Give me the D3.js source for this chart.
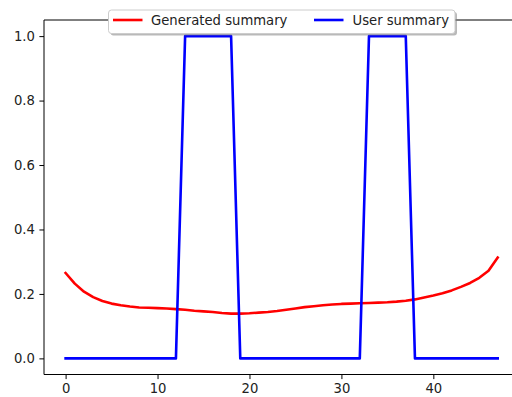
<!DOCTYPE html>
<html>
<head>
<meta charset="utf-8">
<script src="https://cdn.jsdelivr.net/npm/d3@7"></script>
<style>
  html, body { margin: 0; padding: 0; background: #fff; }
  svg { display: block; }
  text { font-family: "DejaVu Sans", sans-serif; }
</style>
</head>
<body>
<svg id="chart" width="512" height="397"></svg>
<script>
const generated = [0.265, 0.232, 0.207, 0.190, 0.178, 0.170, 0.165, 0.161, 0.158, 0.157,
  0.156, 0.155, 0.153, 0.151, 0.148, 0.146, 0.144, 0.141, 0.139, 0.139,
  0.140, 0.142, 0.144, 0.147, 0.151, 0.155, 0.159, 0.162, 0.165, 0.167,
  0.169, 0.170, 0.171, 0.172, 0.173, 0.174, 0.176, 0.179, 0.183, 0.189,
  0.195, 0.202, 0.211, 0.222, 0.234, 0.250, 0.272, 0.313];
const user = [0,0,0,0,0,0,0,0,0,0, 0,0,0,1,1,1,1,1,1,0,
  0,0,0,0,0,0,0,0,0,0, 0,0,0,1,1,1,1,1,0,0,
  0,0,0,0,0,0,0,0];
const xTicks = [0, 10, 20, 30, 40];
const yTicks = [0.0, 0.2, 0.4, 0.6, 0.8, 1.0];
const seriesNames = ["Generated summary", "User summary"];
const seriesColors = ["#ff0000", "#0000ff"];

const svg = d3.select("#chart");
const L = 44, R = 519.3, T = 20, B = 374.5;
const n = generated.length;
const pad = (n - 1) * 0.05;
const x = d3.scaleLinear().domain([-pad, n - 1 + pad]).range([L, R]);
const y = d3.scaleLinear().domain([-0.05, 1.05]).range([B, T]);

const fs = 13.2;

// lines
const line = d3.line().x((d, i) => x(i)).y(d => y(d));
[generated, user].forEach((s, k) => {
  svg.append("path").datum(s)
    .attr("d", line)
    .attr("fill", "none")
    .attr("stroke", seriesColors[k])
    .attr("stroke-width", 2.6)
    .attr("stroke-linejoin", "round")
    .attr("stroke-linecap", "square");
});

// axes
const xAxis = d3.axisBottom(x).tickValues(xTicks).tickFormat(d3.format("d")).tickSize(4.6).tickPadding(4.5);
const yAxis = d3.axisLeft(y).tickValues(yTicks).tickFormat(d3.format(".1f")).tickSize(4.6).tickPadding(4.5);
const gx = svg.append("g").attr("transform", `translate(0,${B})`).call(xAxis);
const gy = svg.append("g").attr("transform", `translate(${L},0)`).call(yAxis);
[gx, gy].forEach(g => {
  g.select(".domain").remove();
  g.selectAll(".tick line").attr("stroke", "#000").attr("stroke-width", 1);
  g.selectAll(".tick text").attr("fill", "#222").style("font-size", fs + "px").style("font-family", "DejaVu Sans");
});

// spines
const sp = svg.append("g").attr("stroke", "#000").attr("stroke-width", 1).attr("fill", "none");
sp.append("line").attr("x1", L).attr("x2", L).attr("y1", T).attr("y2", B);
sp.append("line").attr("x1", L).attr("x2", R).attr("y1", B).attr("y2", B);
sp.append("line").attr("x1", L).attr("x2", R).attr("y1", T).attr("y2", T);
sp.append("line").attr("x1", R).attr("x2", R).attr("y1", T).attr("y2", B);

// legend
const lg = svg.append("g");
const bx = 108.5, by = 10, bw = 346.5, bh = 23.5;
lg.append("rect").attr("x", bx + 2).attr("y", by + 2).attr("width", bw).attr("height", bh)
  .attr("rx", 3).attr("fill", "#808080").attr("opacity", 0.55);
lg.append("rect").attr("x", bx).attr("y", by).attr("width", bw).attr("height", bh)
  .attr("rx", 3).attr("fill", "#fff").attr("stroke", "#cccccc").attr("stroke-width", 1);
const handleX = [113, 314];
const textX = [151, 352.5];
seriesNames.forEach((name, k) => {
  lg.append("line").attr("x1", handleX[k]).attr("x2", handleX[k] + 29.5)
    .attr("y1", 20).attr("y2", 20)
    .attr("stroke", seriesColors[k]).attr("stroke-width", 2.6);
  lg.append("text").attr("x", textX[k]).attr("y", 25)
    .attr("fill", "#222").style("font-size", fs + "px").text(name);
});
</script>
</body>
</html>
